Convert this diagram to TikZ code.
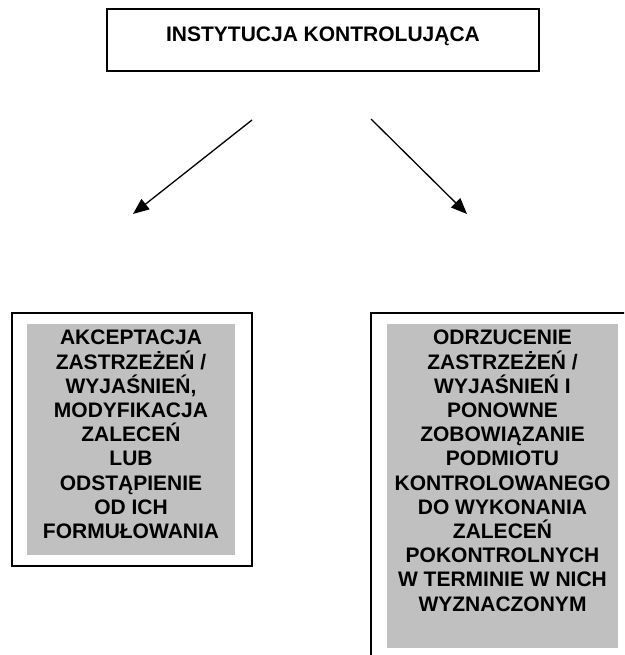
\documentclass[tikz,border=0pt]{standalone}
\usepackage{fontspec}
\setmainfont{Liberation Sans}
\usetikzlibrary{arrows.meta}
\definecolor{boxgray}{RGB}{192,192,192}

\begin{document}
\begin{tikzpicture}[x=1pt, y=-1pt,
    txt/.style = {font=\bfseries\fontsize{21}{24.2}\selectfont, align=center, inner sep=0pt},
    frame/.style = {draw, line width=1.5pt, inner sep=0pt},
    shade/.style = {fill=boxgray, inner sep=0pt},
    arr/.style = {-{Triangle[length=16pt,width=13pt]}, line width=1.3pt}]
  \clip (0,0) rectangle (624,655);

  \node[txt, draw, line width=2pt, minimum width=432pt, text height=33pt, text depth=29pt, anchor=base] (inst) at (323,42) {INSTYTUCJA KONTROLUJĄCA};

  \node[frame, minimum width=240pt, minimum height=253pt] (akcframe) at (132,439.5) {};
  \node[shade, minimum width=208pt, minimum height=231pt] (akcbox) at (131,439.5) {};
  \node[txt, anchor=north] (akc) at (131,330) {AKCEPTACJA\\ZASTRZEŻEŃ /\\WYJAŚNIEŃ,\\MODYFIKACJA\\ZALECEŃ\\LUB\\ODSTĄPIENIE\\OD ICH\\FORMUŁOWANIA};

  \node[frame, minimum width=280pt, minimum height=360pt] (odrframe) at (511,493) {};
  \node[shade, minimum width=231pt, minimum height=324pt] (odrbox) at (502.5,486) {};
  \node[txt, anchor=north] (odr) at (502.5,330) {ODRZUCENIE\\ZASTRZEŻEŃ /\\WYJAŚNIEŃ I\\PONOWNE\\ZOBOWIĄZANIE\\PODMIOTU\\KONTROLOWANEGO\\DO WYKONANIA\\ZALECEŃ\\POKONTROLNYCH\\W TERMINIE W NICH\\WYZNACZONYM};

  \coordinate (ls) at (252,120);
  \coordinate (le) at (133,214);
  \coordinate (rs) at (371,119);
  \coordinate (re) at (467,214);
  \draw[arr] (ls) -- (le);
  \draw[arr] (rs) -- (re);
\end{tikzpicture}
\end{document}
